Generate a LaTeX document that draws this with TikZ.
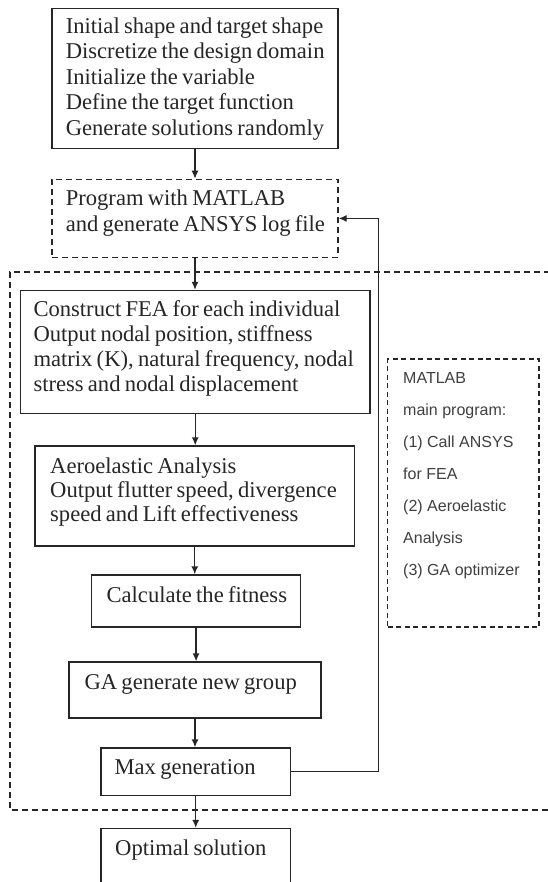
\documentclass[tikz,border=0pt]{standalone}
\usepackage{fontspec}
\setmainfont{Liberation Serif}[WordSpace=0.75]
\newfontfamily\sansf{Liberation Sans}
\usetikzlibrary{arrows.meta}
\begin{document}
\begin{tikzpicture}[x=1pt,y=-1pt,
 box/.style={draw=black!85, line width=1.3pt, inner sep=0pt},
 dbox/.style={draw=black!85, line width=1.3pt, dash pattern=on 6pt off 4pt, inner sep=0pt},
 txt/.style={anchor=west, align=left, inner sep=0pt, text=black!85, font=\fontsize{22.6}{25.5}\selectfont},
 stxt/.style={anchor=west, align=left, inner sep=0pt, text=black!75, font=\sansf\fontsize{16}{32}\selectfont},
 arr/.style={draw=black!85, line width=1.3pt, -{Latex[length=8pt,width=7pt]}}]
\useasboundingbox (0,0) rectangle (547,882);
\fill[white] (0,0) rectangle (547,882);
% boxes
\node[box, minimum width=286pt, minimum height=140pt] (b1) at (195,78.3) {};
\node[dbox, minimum width=286pt, minimum height=78pt] (b2) at (195,218.4) {};
\node[box, minimum width=349.5pt, minimum height=123pt] (b3) at (195.25,352) {};
\node[box, minimum width=319.5pt, minimum height=100pt] (b4) at (194.75,496) {};
\node[box, minimum width=209.4pt, minimum height=52pt] (b5) at (196.1,601) {};
\node[box, minimum width=252pt, minimum height=56pt] (b6) at (195,690) {};
\node[box, minimum width=189.5pt, minimum height=47.5pt] (b7) at (195.75,771.75) {};
\node[box, minimum width=189.5pt, minimum height=71pt] (b8) at (195.75,864) {};
\node[dbox, dash pattern=on 5pt off 3.5pt, line width=1.1pt, minimum width=151.5pt, minimum height=268pt] (rb) at (463.25,493) {};
% big dashed region
\draw[dbox] (560,272) -- (10,272) -- (10,810) -- (560,810);
% texts
\node[txt] (t1) at (65.6,79) {Initial shape and target shape\\Discretize the design domain\\Initialize the variable\\Define the target function\\Generate solutions randomly};
\node[txt, font=\fontsize{22.6}{26}\selectfont] (t2) at (65.6,213) {Program with MATLAB\\and generate ANSYS log file};
\node[txt, font=\fontsize{22.6}{25}\selectfont] (t3) at (33.3,348.5) {Construct FEA for each individual\\Output nodal position, stiffness\\matrix (K), natural frequency, nodal\\stress and nodal displacement};
\node[txt, font=\fontsize{22.6}{24}\selectfont] (t4) at (50,492) {Aeroelastic Analysis\\Output flutter speed, divergence\\speed and Lift effectiveness};
\node[txt] (t5) at (106.4,595) {Calculate the fitness};
\node[txt] (t6) at (84.4,684) {GA generate new group};
\node[txt] (t7) at (114.4,769) {Max generation};
\node[txt] (t8) at (115,850) {Optimal solution};
\node[stxt] (rt) at (403,476) {MATLAB\\main program:\\(1) Call ANSYS\\for FEA\\(2) Aeroelastic\\Analysis\\(3) GA optimizer};
% connectors
\draw[arr] (b1.south) -- (b1.south |- b2.north);
\draw[arr] (b2.south) -- (b2.south |- b3.north);
\draw[arr] (b3.south) -- (b3.south |- b4.north);
\draw[arr] (b4.south) -- (b4.south |- b5.north);
\draw[arr] (b5.south) -- (b5.south |- b6.north);
\draw[arr] (b6.south) -- (b6.south |- b7.north);
\draw[arr] (b7.south) -- (b7.south |- b8.north);
\draw[arr] (b7.east) -- ++(87,0) |- (b2.east);
\end{tikzpicture}
\end{document}
